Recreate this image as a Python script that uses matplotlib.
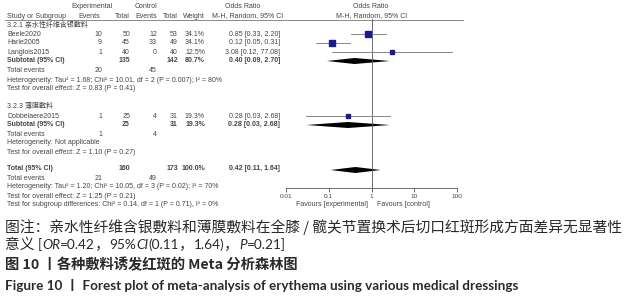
import numpy as np
import matplotlib
matplotlib.use("Agg")
import matplotlib.pyplot as plt
from matplotlib.patches import Polygon

plt.rcParams["font.family"] = ["Liberation Sans", "Noto Sans CJK SC", "DejaVu Sans"]

# --- data ---
studies = ["Beele2020", "Harle2005", "Langlois2015", "Dobbelaere2015"]
exp_events = [10, 9, 1, 1]
exp_total = [50, 45, 40, 25]
ctl_events = [12, 33, 0, 4]
ctl_total = [53, 49, 40, 31]
weights = [34.1, 34.1, 12.5, 19.3]
odds = [0.85, 0.12, 3.08, 0.28]
ci_low = [0.33, 0.05, 0.12, 0.03]
ci_high = [2.20, 0.31, 77.08, 2.68]
ci_text = ["0.85 [0.33, 2.20]", "0.12 [0.05, 0.31]", "3.08 [0.12, 77.08]", "0.28 [0.03, 2.68]"]

sub_names = ["3.2.1 亲水性纤维含银敷料", "3.2.3 薄膜敷料"]
sub_exp_total = [135, 25]
sub_ctl_total = [142, 31]
sub_exp_events = [20, 1]
sub_ctl_events = [45, 4]
sub_weight = [80.7, 19.3]
sub_or = [0.40, 0.28]
sub_low = [0.09, 0.03]
sub_high = [2.70, 2.68]
sub_text = ["0.40 [0.09, 2.70]", "0.28 [0.03, 2.68]"]
sub_het = ["Heterogeneity: Tau\u00b2 = 1.68; Chi\u00b2 = 10.01, df = 2 (P = 0.007); I\u00b2 = 80%",
           "Heterogeneity: Not applicable"]
sub_test = ["Test for overall effect: Z = 0.83 (P = 0.41)",
            "Test for overall effect: Z = 1.10 (P = 0.27)"]

tot_or, tot_low, tot_high = 0.42, 0.11, 1.64
tot_text = "0.42 [0.11, 1.64]"
tot_exp, tot_ctl = 160, 173
tot_exp_ev, tot_ctl_ev = 21, 49
tot_het = "Heterogeneity: Tau\u00b2 = 1.20; Chi\u00b2 = 10.05, df = 3 (P = 0.02); I\u00b2 = 70%"
tot_test = "Test for overall effect: Z = 1.25 (P = 0.21)"
sub_diff = "Test for subgroup differences: Chi\u00b2 = 0.14, df = 1 (P = 0.71), I\u00b2 = 0%"

ticks = [0.01, 0.1, 1, 10, 100]
tick_labels = ["0.01", "0.1", "1", "10", "100"]

W, H = 625, 300
fig = plt.figure(figsize=(W / 100, H / 100), dpi=100)
bg = fig.add_axes([0, 0, 1, 1])
bg.set_xlim(0, W)
bg.set_ylim(H, 0)
bg.axis("off")

tc = "#444444"
fs = 5.0


def t(x, y, s, ha="left", bold=False, size=fs, color=tc):
    bg.text(x, y, s, ha=ha, va="center", fontsize=size, color=color,
            fontweight="bold" if bold else "normal")


# header
t(92, 7, "Experimental", ha="center")
t(146, 7, "Control", ha="center")
t(243, 7, "Odds Ratio", ha="center")
t(371, 7, "Odds Ratio", ha="center")
t(7, 16, "Study or Subgroup")
t(100, 16, "Events", ha="right")
t(130, 16, "Total", ha="right")
t(157, 16, "Events", ha="right")
t(178, 16, "Total", ha="right")
t(205, 16, "Weight", ha="right")
t(248, 16, "M-H, Random, 95% CI", ha="center")
t(372, 16, "M-H, Random, 95% CI", ha="center")
bg.plot([5, 463], [19.5, 19.5], color="#777777", lw=0.6)


def study_row(y, i):
    t(7, y, studies[i])
    t(102, y, str(exp_events[i]), ha="right")
    t(130, y, str(exp_total[i]), ha="right")
    t(157, y, str(ctl_events[i]), ha="right")
    t(178, y, str(ctl_total[i]), ha="right")
    t(205, y, "%.1f%%" % weights[i], ha="right")
    t(280, y, ci_text[i], ha="right")


# forest axes
ax = fig.add_axes([286 / W, 1 - 188 / H, (457 - 286) / W, (188 - 19) / H])
ax.set_xscale("log")
ax.set_xlim(0.01, 100)
ax.set_ylim(188, 19)
for s in ["top", "right", "left"]:
    ax.spines[s].set_visible(False)
ax.spines["bottom"].set_color("#555555")
ax.spines["bottom"].set_linewidth(0.6)
ax.set_yticks([])
ax.set_xticks(ticks)
ax.set_xticklabels(tick_labels, fontsize=4.6, color=tc)
ax.minorticks_off()
ax.tick_params(axis="x", length=3, width=0.6, color="#555555", pad=1.5)
ax.patch.set_alpha(0)
ax.axvline(1, color="#555555", lw=0.6)


def square(y, i):
    ax.plot([ci_low[i], ci_high[i]], [y, y], color="#888888", lw=0.7)
    ax.plot(odds[i], y, marker="s", color="#1a1a8c", ms=1.2 + weights[i] * 0.08,
            linestyle="none")


def diamond(y, o, lo, hi):
    ax.add_patch(Polygon([[lo, y], [o, y - 3], [hi, y], [o, y + 3]], closed=True,
                         color="black", lw=0))


# subgroup 1
rows1 = [34, 43, 52]
t(7, 25, sub_names[0])
for y, i in zip(rows1, [0, 1, 2]):
    study_row(y, i)
    square(y, i)
t(7, 61, "Subtotal (95% CI)", bold=True)
t(130, 61, str(sub_exp_total[0]), ha="right", bold=True)
t(178, 61, str(sub_ctl_total[0]), ha="right", bold=True)
t(205, 61, "%.1f%%" % sub_weight[0], ha="right", bold=True)
t(280, 61, sub_text[0], ha="right", bold=True)
diamond(61, sub_or[0], sub_low[0], sub_high[0])
t(7, 71, "Total events")
t(102, 71, str(sub_exp_events[0]), ha="right")
t(157, 71, str(sub_ctl_events[0]), ha="right")
t(7, 80, sub_het[0])
t(7, 89, sub_test[0])

# subgroup 2
t(7, 106, sub_names[1])
study_row(116, 3)
square(116, 3)
t(7, 125, "Subtotal (95% CI)", bold=True)
t(130, 125, str(sub_exp_total[1]), ha="right", bold=True)
t(178, 125, str(sub_ctl_total[1]), ha="right", bold=True)
t(205, 125, "%.1f%%" % sub_weight[1], ha="right", bold=True)
t(280, 125, sub_text[1], ha="right", bold=True)
diamond(125, sub_or[1], sub_low[1], sub_high[1])
t(7, 134, "Total events")
t(102, 134, str(sub_exp_events[1]), ha="right")
t(157, 134, str(sub_ctl_events[1]), ha="right")
t(7, 143, sub_het[1])
t(7, 152, sub_test[1])

# overall
t(7, 169, "Total (95% CI)", bold=True)
t(130, 169, str(tot_exp), ha="right", bold=True)
t(178, 169, str(tot_ctl), ha="right", bold=True)
t(205, 169, "100.0%", ha="right", bold=True)
t(280, 169, tot_text, ha="right", bold=True)
diamond(170, tot_or, tot_low, tot_high)
t(7, 178, "Total events")
t(102, 178, str(tot_exp_ev), ha="right")
t(157, 178, str(tot_ctl_ev), ha="right")
t(7, 187, tot_het)
t(7, 196, tot_test)
t(7, 205, sub_diff)
t(368, 204, "Favours [experimental]", ha="right")
t(377, 204, "Favours [control]")

# caption
cap_c = "#2a2a2a"
cjk = ["Noto Sans CJK SC", "DejaVu Sans"]
lat = ["Lato", "Noto Sans CJK SC"]
bg.text(5, 227, "图注：亲水性纤维含银敷料和薄膜敷料在全膝 / 髋关节置换术后切口红斑形成方面差异无显著性",
        fontsize=10.65, color=cap_c, va="center", family=cjk)

fig.canvas.draw()
renderer = fig.canvas.get_renderer()
x = 5
segs = [("意义 ", "normal", cjk), ("[", "normal", lat), ("OR", "italic", lat),
        ("=0.42", "normal", lat), ("，", "normal", cjk), ("95%", "normal", lat),
        ("CI", "italic", lat), ("(0.11", "normal", lat), ("，", "normal", cjk),
        ("1.64)", "normal", lat), ("，", "normal", cjk), ("P", "italic", lat),
        ("=0.21]", "normal", lat)]
for s, st, fam in segs:
    tx = bg.text(x, 245, s, fontsize=10.65 if fam is cjk else 9.8, color=cap_c,
                 va="center", style=st, family=fam)
    bb = tx.get_window_extent(renderer)
    x += bb.width

bg.text(5, 265, "图 10 丨各种敷料诱发红斑的 Meta 分析森林图", fontsize=10.3, color=cap_c,
        va="center", family=cjk, fontweight="semibold")
bg.text(5, 285, "Figure 10 丨 Forest plot of meta-analysis of erythema using various medical dressings",
        fontsize=9.7, color=cap_c, va="center", family=lat, fontweight="bold")

fig.savefig("out.png", dpi=100)
